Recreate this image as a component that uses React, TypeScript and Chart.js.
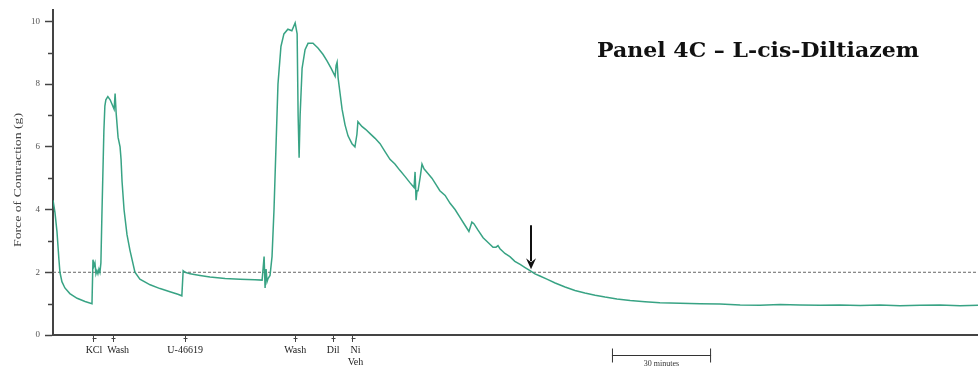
import React, { useEffect, useRef } from "react";
import { Chart, registerables } from "chart.js";
Chart.register(...registerables);

// Time (minutes from start of trace) and force (g)
const timeMin = [
  0, 0.6, 1.2, 1.8, 2.1, 2.7, 3.6, 5.1, 7.3, 9.7, 11.8,
  12.1, 12.4, 12.7, 13.0, 13.3, 13.6, 13.9, 14.2, 14.5, 14.8, 15.4, 15.7, 16.0, 16.6, 17.3, 17.9, 18.5, 18.8, 19.1, 19.7, 20.3, 20.6, 20.9, 21.5, 22.4, 23.3, 24.8, 26.3, 29.4, 32.4, 35.4, 37.8, 39.0,
  39.4, 40.0, 41.5, 44.5, 47.5, 52.1, 56.6, 61.1, 63.3, 63.9, 64.2, 64.5, 64.8, 65.1, 65.7,
  66.3, 66.9, 67.5, 68.1, 69.0, 69.9, 71.1, 72.3, 73.3, 73.9, 74.2, 74.5, 74.8, 75.4, 76.3, 77.2, 78.7, 80.2, 81.7, 82.9, 84.2, 85.4, 85.7, 86.0, 86.3, 86.9, 87.5, 88.4, 89.3, 90.5, 91.4,
  92.0, 92.3, 93.5, 94.7, 95.9, 97.5, 99.0, 100.5, 102.0, 103.5, 105.0, 106.6, 108.1, 109.3, 109.6, 109.9, 110.2, 110.5, 111.1, 111.7, 112.3, 113.5, 114.7, 115.9, 117.1, 118.7, 120.2, 121.7, 123.2, 124.7, 125.9, 126.8, 127.4, 128.6, 130.2, 131.7, 133.2, 134.1, 134.7, 135.3, 136.8, 138.3, 139.8, 141.4, 142.9, 144.4, 145.9, 147.4, 149.5,
  152.0, 155.0, 158.0, 161.0, 164.1, 167.1, 170.7, 174.7, 179.2, 183.7, 189.8, 195.8, 201.9, 208.0, 214.0, 220.1, 226.1, 232.2, 238.2, 244.3, 250.3, 256.4, 262.4, 268.5, 274.6, 280.0,
];
const forceG = [
  4.3, 3.9, 3.3, 2.4, 2.0, 1.7, 1.5, 1.32, 1.17, 1.07, 1.0,
  2.4, 2.2, 2.3, 1.95, 2.05, 1.95, 2.1, 2.0, 2.3, 3.8, 6.5, 7.3, 7.5, 7.6, 7.5, 7.35, 7.2, 7.7, 7.1, 6.3, 6.0, 5.6, 4.9, 4.0, 3.2, 2.7, 2.0, 1.78, 1.6, 1.48, 1.38, 1.3, 1.25,
  2.05, 2.0, 1.95, 1.9, 1.85, 1.8, 1.78, 1.76, 1.75, 2.5, 1.5, 2.1, 1.7, 1.8, 1.9,
  2.5, 4.0, 6.0, 8.0, 9.2, 9.6, 9.75, 9.7, 9.95, 9.6, 7.0, 5.65, 7.0, 8.5, 9.1, 9.3, 9.3, 9.15, 8.95, 8.75, 8.5, 8.25, 8.6, 8.7, 8.2, 7.7, 7.2, 6.7, 6.35, 6.1, 6.0,
  6.4, 6.8, 6.65, 6.55, 6.43, 6.27, 6.1, 5.85, 5.6, 5.45, 5.25, 5.05, 4.85, 4.7, 5.2, 4.3, 4.6, 4.6, 5.0, 5.45, 5.3, 5.15, 5.0, 4.8, 4.6, 4.45, 4.2, 4.0, 3.75, 3.5, 3.3, 3.6, 3.55, 3.35, 3.1, 2.95, 2.8, 2.8, 2.85, 2.75, 2.6, 2.5, 2.35, 2.25, 2.15, 2.05, 1.95, 1.88, 1.78,
  1.66, 1.53, 1.42, 1.34, 1.27, 1.21, 1.15, 1.1, 1.06, 1.03, 1.01, 1.0, 0.99, 0.96, 0.95, 0.97, 0.96, 0.95, 0.96, 0.94, 0.96, 0.93, 0.95, 0.96, 0.93, 0.95,
];

const eventTimes = [12.4, 18.2, 40.0, 73.3, 84.8, 90.8];
const eventLabels: (string | string[])[] = ["KCl", "\u2002\u2002Wash", "U-46619", "Wash", "Dil", ["\u2002Ni", "\u2002Veh"]];
const yTickValues = [0, 1, 2, 3, 4, 5, 6, 7, 8, 9, 10];
const thresholdG = 2;
const arrowTime = 144.7;
const arrowFromG = 3.5;
const arrowToG = 2.1;
const scaleBarStart = 169.2;
const scaleBarMinutes = 30;
const scaleBarLabel = "30 minutes";
const titleText = "Panel 4C \u2013 L-cis-Diltiazem";
const yAxisLabel = "Force of Contraction (g)";

const SERIF = "'Liberation Serif', 'DejaVu Serif', serif";

const overlayPlugin = {
  id: "overlay",
  afterDraw(chart: any) {
    const { ctx, chartArea, scales } = chart;
    const xs = scales.x;
    const ys = scales.y;
    ctx.save();
    // minor y ticks
    ctx.strokeStyle = "#444";
    ctx.lineWidth = 1.5;
    yTickValues.forEach((v) => {
      if (v % 2 === 1) {
        const py = Math.round(ys.getPixelForValue(v)) + 0.5;
        ctx.beginPath();
        ctx.moveTo(chartArea.left - 5, py);
        ctx.lineTo(chartArea.left, py);
        ctx.stroke();
      }
    });
    // event tick caps
    ctx.lineWidth = 1;
    eventTimes.forEach((t) => {
      const px = Math.round(xs.getPixelForValue(t)) + 0.5;
      ctx.beginPath();
      ctx.moveTo(px - 2, chartArea.bottom + 3.5);
      ctx.lineTo(px + 2, chartArea.bottom + 3.5);
      ctx.stroke();
    });
    // arrow
    const ax = xs.getPixelForValue(arrowTime);
    const ay1 = ys.getPixelForValue(arrowFromG);
    const ay2 = ys.getPixelForValue(arrowToG);
    ctx.strokeStyle = "#111";
    ctx.fillStyle = "#111";
    ctx.lineWidth = 2;
    ctx.beginPath();
    ctx.moveTo(ax, ay1);
    ctx.lineTo(ax, ay2 - 8);
    ctx.stroke();
    ctx.beginPath();
    ctx.moveTo(ax - 5, ay2 - 11);
    ctx.lineTo(ax, ay2 - 7);
    ctx.lineTo(ax + 5, ay2 - 11);
    ctx.lineTo(ax, ay2);
    ctx.closePath();
    ctx.fill();
    // scale bar
    const sx1 = xs.getPixelForValue(scaleBarStart);
    const sx2 = xs.getPixelForValue(scaleBarStart + scaleBarMinutes);
    const sy = chartArea.bottom + 20.5;
    ctx.strokeStyle = "#333";
    ctx.lineWidth = 1;
    ctx.beginPath();
    ctx.moveTo(sx1, sy);
    ctx.lineTo(sx2, sy);
    ctx.moveTo(sx1 + 0.5, sy - 7);
    ctx.lineTo(sx1 + 0.5, sy + 7);
    ctx.moveTo(sx2 - 0.5, sy - 7);
    ctx.lineTo(sx2 - 0.5, sy + 7);
    ctx.stroke();
    ctx.fillStyle = "#333";
    ctx.font = `8px ${SERIF}`;
    ctx.textAlign = "center";
    ctx.textBaseline = "middle";
    ctx.fillText(scaleBarLabel, (sx1 + sx2) / 2, sy + 8);
    // title
    ctx.font = `bold 20px 'DejaVu Serif', 'Liberation Serif', serif`;
    ctx.fillStyle = "#111";
    ctx.textAlign = "left";
    ctx.textBaseline = "alphabetic";
    const tw = ctx.measureText(titleText).width;
    ctx.save();
    ctx.translate(597, 57);
    ctx.scale(322 / tw, 1);
    ctx.fillText(titleText, 0, 0);
    ctx.restore();
    // y axis label
    ctx.font = `10px ${SERIF}`;
    ctx.fillStyle = "#444";
    const lw = ctx.measureText(yAxisLabel).width;
    ctx.save();
    ctx.translate(18, 180);
    ctx.rotate(-Math.PI / 2);
    ctx.scale(134 / lw, 1);
    ctx.textAlign = "center";
    ctx.textBaseline = "middle";
    ctx.fillText(yAxisLabel, 0, 0);
    ctx.restore();
    ctx.restore();
  },
};

export default function App() {
  const ref = useRef<HTMLCanvasElement>(null);
  useEffect(() => {
    document.body.style.margin = "0";
    const canvas = ref.current!;
    const trace = timeMin.map((t, i) => ({ x: t, y: forceG[i] }));
    const thresholdLine = [
      { x: 0, y: thresholdG },
      { x: 280, y: thresholdG },
    ];
    const chart = new Chart(canvas, {
      type: "line",
      data: {
        datasets: [
          {
            data: trace,
            borderColor: "rgba(45,158,125,0.95)",
            borderWidth: 1.5,
            pointRadius: 0,
            tension: 0,
          },
          {
            data: thresholdLine,
            borderColor: "#666",
            borderWidth: 1,
            borderDash: [3, 2],
            pointRadius: 0,
          },
        ],
      },
      options: {
        animation: false,
        responsive: false,
        parsing: true,
        layout: { padding: { top: 10, left: 0, right: 0, bottom: 0 } },
        plugins: { legend: { display: false }, tooltip: { enabled: false }, title: { display: false } },
        scales: {
          x: {
            type: "linear",
            min: 0,
            max: 280,
            afterBuildTicks: (scale: any) => {
              scale.ticks = eventTimes.map((v) => ({ value: v }));
            },
            afterFit: (scale: any) => {
              scale.height = 35;
            },
            ticks: {
              autoSkip: false,
              maxRotation: 0,
              padding: 2,
              color: "#222",
              font: { family: SERIF, size: 10 },
              callback: (_v: any, i: number) => eventLabels[i],
            },
            grid: { display: true, drawOnChartArea: false, drawTicks: true, tickLength: 7, tickColor: "#444", tickWidth: 1 },
            border: { display: true, color: "#444", width: 2 },
          },
          y: {
            type: "linear",
            min: 0,
            max: 10.35,
            afterBuildTicks: (scale: any) => {
              scale.ticks = yTickValues.map((v) => ({ value: v }));
            },
            afterFit: (scale: any) => {
              scale.width = 53;
            },
            ticks: {
              autoSkip: false,
              padding: 5,
              color: "#555",
              font: { family: SERIF, size: 9 },
              callback: (v: any) => (Number(v) % 2 === 0 ? String(v) : ""),
            },
            grid: {
              display: true,
              drawOnChartArea: false,
              drawTicks: true,
              tickLength: 8,
              tickWidth: 1.5,
              tickColor: (c: any) => (c.tick && c.tick.value % 2 === 1 ? "rgba(0,0,0,0)" : "#444"),
            },
            border: { display: true, color: "#444", width: 2 },
          },
        },
      },
      plugins: [overlayPlugin],
    } as any);
    return () => chart.destroy();
  }, []);
  return (
    <div style={{ width: 978, height: 370, background: "#fff" }}>
      <canvas ref={ref} width={978} height={370} style={{ display: "block" }} />
    </div>
  );
}
